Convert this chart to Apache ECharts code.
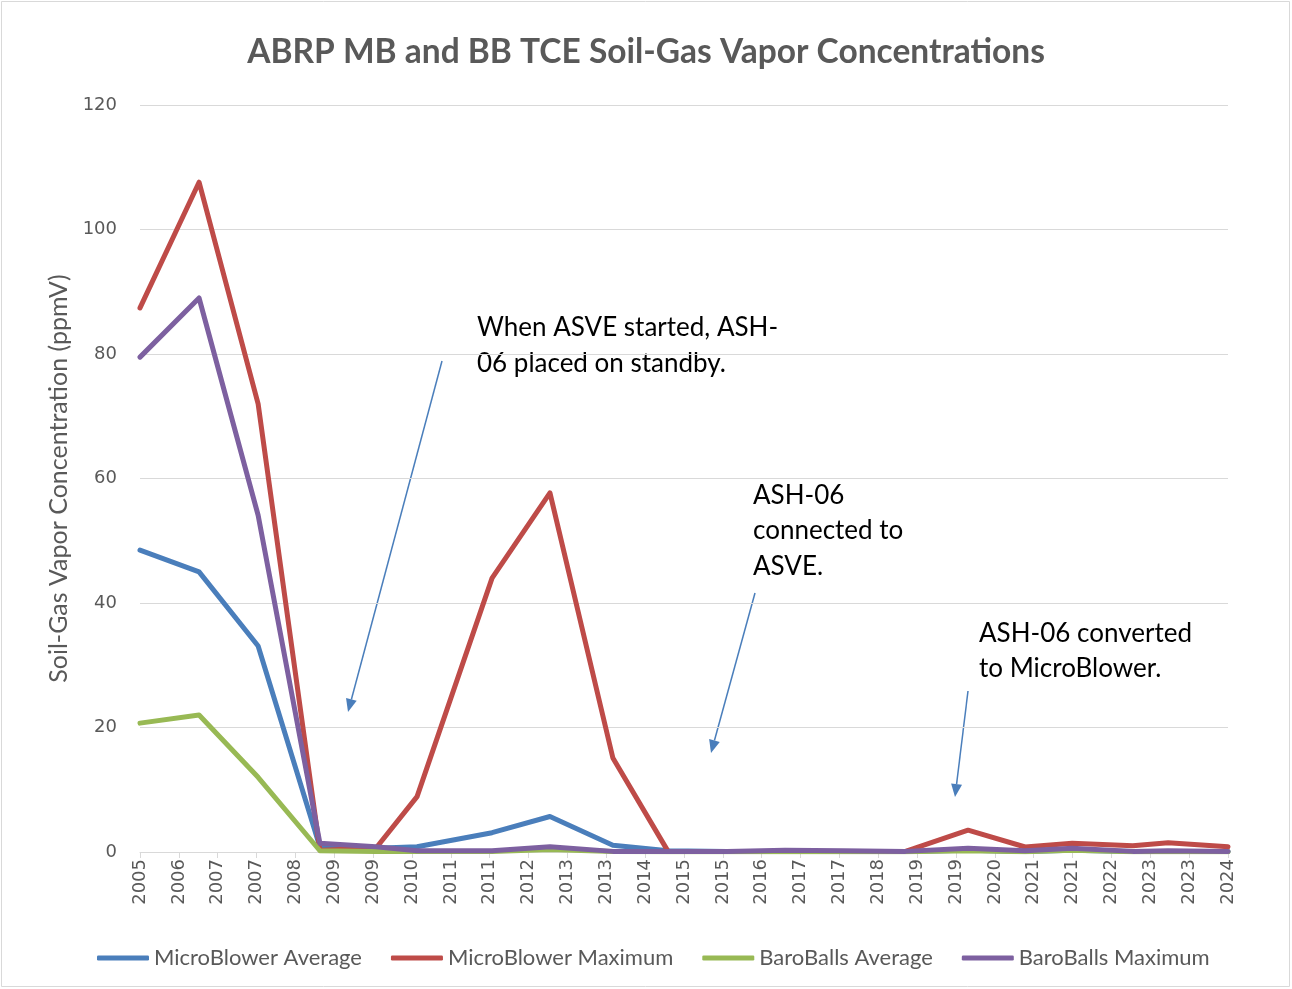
<!DOCTYPE html>
<html>
<head>
<meta charset="utf-8">
<script src="https://cdn.jsdelivr.net/npm/echarts@6/dist/echarts.min.js"></script>
<style>
html,body{margin:0;padding:0;background:#fff;}
#chart{width:1292px;height:989px;}
</style>
</head>
<body>
<div id="chart"></div>
<script>
// Tick labels of the (date-like) x axis, one per major tick
const tickLabels = ['2005','2006','2007','2007','2008','2009','2009','2010','2011','2011','2012','2013','2013','2014','2015','2015','2016','2017','2017','2018','2019','2019','2020','2021','2021','2022','2023','2023','2024'];
// Sample positions along the x axis, in major-tick units (sampling dates)
const samplePos = [0, 1.52, 3.04, 4.63, 6.07, 7.13, 9.06, 10.55, 12.17, 13.59, 15.1, 16.6, 18.1, 19.7, 21.31, 22.78, 23.99, 25.55, 26.46, 28];
const seriesNames = ['MicroBlower Average', 'MicroBlower Maximum', 'BaroBalls Average', 'BaroBalls Maximum'];
const mbAverage = [48.5, 45, 33.1, 0.8, 0.6, 0.85, 3.1, 5.7, 1.1, 0.2, 0.1, 0.1, 0.1, 0.1, 0.3, 0.1, 0.3, 0.1, 0.1, 0.1];
const mbMaximum = [87.4, 107.6, 72, 0.3, 0.6, 8.9, 44, 57.7, 15.1, 0.1, 0.1, 0.1, 0.1, 0.1, 3.5, 0.8, 1.4, 1.0, 1.5, 0.85];
const bbAverage = [20.7, 22, 12, 0.2, 0.1, 0.1, 0.1, 0.4, 0.1, 0.05, 0.05, 0.05, 0.05, 0.05, 0.2, 0.05, 0.3, 0.05, 0.05, 0.05];
const bbMaximum = [79.5, 89, 54.1, 1.4, 0.85, 0.2, 0.2, 0.85, 0.1, 0.1, 0.1, 0.3, 0.2, 0.1, 0.6, 0.2, 0.6, 0.1, 0.2, 0.1];
const colors = ['#4A7EBB', '#BE4B48', '#98B954', '#7D60A0'];

const allValues = [mbAverage, mbMaximum, bbAverage, bbMaximum];

const CAL = 'Lato, "Open Sans", sans-serif';
const AX = '"DejaVu Sans", Verdana, sans-serif';

function arrow(x1, y1, x2, y2, color) {
  const dx = x2 - x1, dy = y2 - y1;
  const len = Math.sqrt(dx*dx + dy*dy);
  const ux = dx/len, uy = dy/len;
  const hl = 13, hw = 5.5;
  const bx = x2 - ux*hl, by = y2 - uy*hl;
  const px = -uy, py = ux;
  return [
    {type:'line', shape:{x1:x1, y1:y1, x2:bx, y2:by}, style:{stroke:color, lineWidth:1.5}, silent:true},
    {type:'polygon', shape:{points:[[x2,y2],[bx+px*hw, by+py*hw],[bx-px*hw, by-py*hw]]}, style:{fill:color}, silent:true}
  ];
}
function txt(s, x, y) {
  return {type:'text', style:{text:s, x:x, y:y, font:'26px ' + CAL, fill:'#000', textVerticalAlign:'middle'}, silent:true};
}

const graphics = [
  {type:'rect', shape:{x:1.5, y:1.5, width:1288, height:985}, style:{fill:'none', stroke:'#d9d9d9', lineWidth:1}, silent:true},
  txt('When ASVE started, ASH-', 477, 328),
  txt('06 placed on standby.', 477, 364),
  txt('ASH-06', 753, 496),
  txt('connected to', 753, 531),
  txt('ASVE.', 753, 567),
  txt('ASH-06 converted', 979, 634),
  txt('to MicroBlower.', 979, 669)
].concat(arrow(442, 361, 348, 712, '#4A7EBB'))
 .concat(arrow(755, 593, 711, 753, '#4A7EBB'))
 .concat(arrow(968, 691, 955, 797, '#4A7EBB'));

const chart = echarts.init(document.getElementById('chart'), null, {renderer:'canvas'});
chart.setOption({
  animation: false,
  backgroundColor: '#ffffff',
  title: {
    text: 'ABRP MB and BB TCE Soil-Gas Vapor Concentrations',
    left: 'center', top: 30,
    textStyle: {fontFamily: CAL, fontSize: 33.5, fontWeight: 'bold', color: '#595959'}
  },
  legend: {
    top: 942, left: 92,
    icon: 'roundRect', itemWidth: 52, itemHeight: 5, itemGap: 29,
    textStyle: {fontFamily: CAL, fontSize: 22, color: '#595959'},
    data: seriesNames
  },
  grid: {left: 140, right: 64, top: 105, bottom: 137, containLabel: false},
  xAxis: {
    type: 'value', min: 0, max: tickLabels.length - 1, interval: 1,
    axisLine: {show: true, lineStyle: {color: '#d9d9d9', width: 1}},
    axisTick: {show: true, length: 6, lineStyle: {color: '#d9d9d9'}},
    splitLine: {show: false},
    axisLabel: {
      rotate: 90, margin: 7, color: '#595959', fontFamily: AX, fontSize: 18,
      formatter: function (v) { return tickLabels[Math.round(v)]; }
    }
  },
  yAxis: {
    type: 'value', min: 0, max: 120, interval: 20,
    name: 'Soil-Gas Vapor Concentration (ppmV)', nameLocation: 'middle', nameGap: 68, nameRotate: 90,
    nameTextStyle: {fontFamily: CAL, fontSize: 25, color: '#595959'},
    axisLine: {show: false}, axisTick: {show: false},
    splitLine: {lineStyle: {color: '#d9d9d9', width: 1}},
    axisLabel: {color: '#595959', fontFamily: AX, fontSize: 18, margin: 23}
  },
  series: seriesNames.map(function (n, k) {
    return {
      name: n, type: 'line', showSymbol: false, symbol: 'none',
      lineStyle: {width: 5, color: colors[k], cap: 'round', join: 'round'},
      itemStyle: {color: colors[k]},
      data: samplePos.map(function (x, i) { return [x, allValues[k][i]]; })
    };
  }),
  graphic: graphics
});
</script>
</body>
</html>
